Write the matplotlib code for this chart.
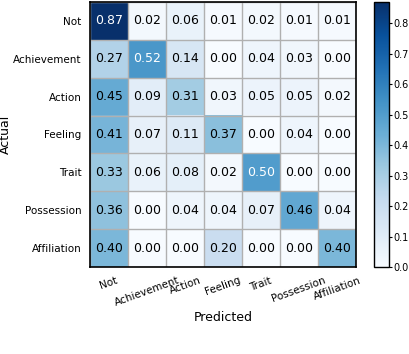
import numpy as np
import matplotlib
matplotlib.use("Agg")
import matplotlib.pyplot as plt

classes = ["Not", "Achievement", "Action", "Feeling", "Trait", "Possession", "Affiliation"]
row_not = [0.87, 0.02, 0.06, 0.01, 0.02, 0.01, 0.01]
row_achievement = [0.27, 0.52, 0.14, 0.00, 0.04, 0.03, 0.00]
row_action = [0.45, 0.09, 0.31, 0.03, 0.05, 0.05, 0.02]
row_feeling = [0.41, 0.07, 0.11, 0.37, 0.00, 0.04, 0.00]
row_trait = [0.33, 0.06, 0.08, 0.02, 0.50, 0.00, 0.00]
row_possession = [0.36, 0.00, 0.04, 0.04, 0.07, 0.46, 0.04]
row_affiliation = [0.40, 0.00, 0.00, 0.20, 0.00, 0.00, 0.40]
cbar_ticks = [0.0, 0.1, 0.2, 0.3, 0.4, 0.5, 0.6, 0.7, 0.8]

cm = np.array([row_not, row_achievement, row_action, row_feeling,
               row_trait, row_possession, row_affiliation])

fig = plt.figure(figsize=(4.10, 3.54), dpi=100)
ax = fig.add_axes([90/410, 1 - 267/354, 266/410, 265/354])
cax = fig.add_axes([374/410, 1 - 267/354, 15/410, 265/354])

im = ax.imshow(cm, cmap="Blues", vmin=0, vmax=cm.max(), aspect="auto")
n = len(classes)
ax.set_xticks(np.arange(n))
ax.set_yticks(np.arange(n))
ax.set_xticklabels(classes, rotation=20, ha="center", fontsize=7.5)
ax.set_yticklabels(classes, fontsize=7.5)
ax.set_xticks(np.arange(n + 1) - 0.5, minor=True)
ax.set_yticks(np.arange(n + 1) - 0.5, minor=True)
ax.grid(which="minor", color="#b0b0b0", linewidth=1)
ax.tick_params(which="minor", length=0)
ax.tick_params(axis="y", which="major", length=0, pad=6)
ax.tick_params(axis="x", which="major", length=0, pad=6)
for s in ax.spines.values():
    s.set_linewidth(1.2)

for i in range(n):
    for j in range(n):
        v = cm[i, j]
        ax.text(j, i, f"{v:.2f}", ha="center", va="center", fontsize=9,
                color="white" if v > 0.48 else "black")

ax.set_xlabel("Predicted", fontsize=9, labelpad=2)
ax.set_ylabel("Actual", fontsize=9)
ax.yaxis.set_label_coords(-0.292, 0.5)

cb = fig.colorbar(im, cax=cax, ticks=cbar_ticks)
cb.ax.tick_params(labelsize=7, length=2.5, pad=1)
cb.outline.set_linewidth(1)

fig.savefig("out.png", dpi=100)
